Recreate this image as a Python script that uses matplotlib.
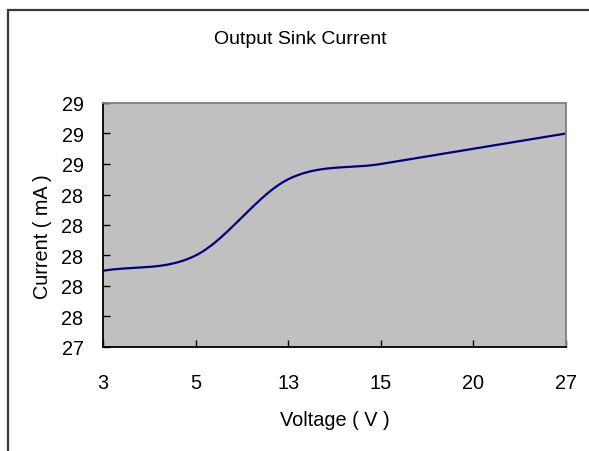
import numpy as np
import matplotlib
matplotlib.use("Agg")
import matplotlib.pyplot as plt
from matplotlib.patches import Rectangle

# data (categorical x axis)
voltage_labels = ["3", "5", "13", "15", "20", "27"]
current_ma = [27.9, 28.0, 28.5, 28.6, 28.7, 28.8]
y_ticks = [27.4, 27.6, 27.8, 28.0, 28.2, 28.4, 28.6, 28.8, 29.0]


def smooth_line(ys, n=40):
    # Catmull-Rom style smoothing like the spreadsheet "smoothed line"
    ys = np.asarray(ys, dtype=float)
    pts = np.concatenate([[2 * ys[0] - ys[1]], ys, [2 * ys[-1] - ys[-2]]])
    xs_out, ys_out = [], []
    for i in range(len(ys) - 1):
        p0, p1, p2, p3 = pts[i], pts[i + 1], pts[i + 2], pts[i + 3]
        m1 = (p2 - p0) / 2
        m2 = (p3 - p1) / 2
        t = np.linspace(0, 1, n, endpoint=(i == len(ys) - 2))
        h00 = 2 * t**3 - 3 * t**2 + 1
        h10 = t**3 - 2 * t**2 + t
        h01 = -2 * t**3 + 3 * t**2
        h11 = t**3 - t**2
        xs_out.append(i + t)
        ys_out.append(h00 * p1 + h10 * m1 + h01 * p2 + h11 * m2)
    return np.concatenate(xs_out), np.concatenate(ys_out)


plt.rcParams["font.family"] = ["Liberation Sans", "DejaVu Sans"]

W, H = 589, 452
fig = plt.figure(figsize=(W / 100, H / 100), dpi=100)
fig.patch.set_facecolor("white")

# outer chart frame (runs off the right and bottom edges)
fig.patches.append(Rectangle((7.5 / W, -0.05), 1.2, 1 - 10.5 / H + 0.05,
                             transform=fig.transFigure, fill=False,
                             edgecolor="#3a3a3a", linewidth=1.6))

ax = fig.add_axes([103 / W, 1 - 348 / H, (566 - 103) / W, (348 - 104) / H])
ax.set_facecolor("#C0C0C0")

x = np.arange(len(current_ma))
sx, sy = smooth_line(current_ma)
ax.plot(sx, sy, color="#000080", linewidth=1.6, solid_capstyle="round")

ax.set_xlim(0, len(current_ma) - 1)
ax.set_ylim(y_ticks[0], y_ticks[-1])
ax.set_xticks(x)
ax.set_xticklabels(voltage_labels)
ax.set_yticks(y_ticks)
ax.set_yticklabels([f"{v:.0f}" for v in y_ticks])

ax.tick_params(axis="both", direction="in", length=5, width=1, color="black",
               labelsize=14.3)
ax.tick_params(axis="x", pad=18.5)
ax.tick_params(axis="y", pad=14)

for side in ("left", "bottom"):
    ax.spines[side].set_color("black")
    ax.spines[side].set_linewidth(1.3)
for side in ("top", "right"):
    ax.spines[side].set_color("#808080")
    ax.spines[side].set_linewidth(1.3)

fig.text(300 / W, 1 - 40 / H, "Output Sink Current", ha="center", va="center",
         fontsize=14)
fig.text(335 / W, 1 - 421 / H, "Voltage ( V )", ha="center", va="center",
         fontsize=14.3)
fig.text(42 / W, 1 - 237 / H, "Current ( mA )", ha="center", va="center",
         rotation=90, fontsize=14.3)

fig.savefig("out.png", dpi=100)
